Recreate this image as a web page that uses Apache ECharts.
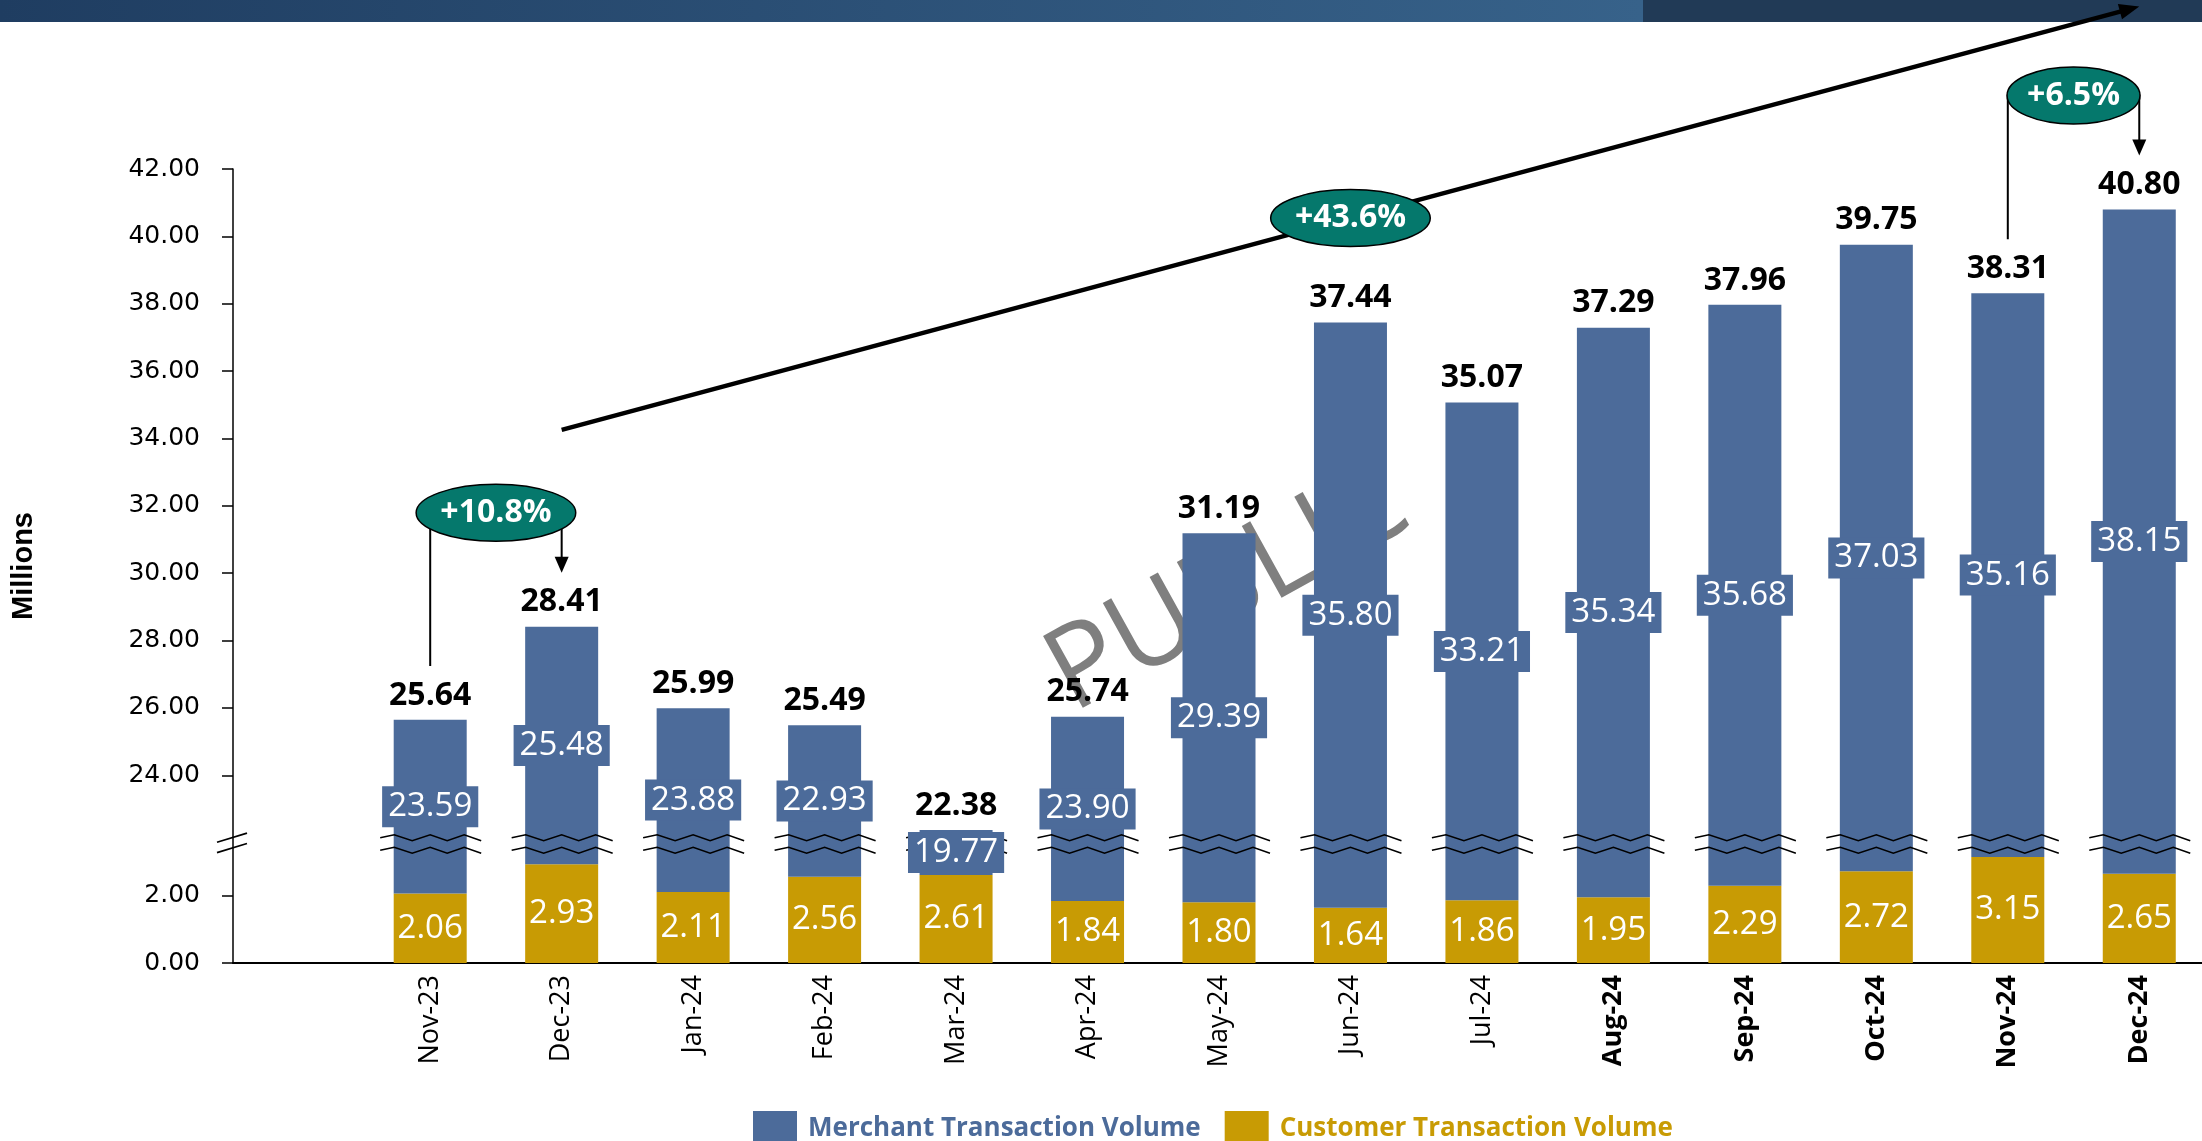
<!DOCTYPE html>
<html>
<head>
<meta charset="utf-8">
<title>Transaction Volume</title>
<script src="https://cdn.jsdelivr.net/npm/echarts@6/dist/echarts.min.js"></script>
<style>
  html, body { margin: 0; padding: 0; background: #fff; }
  #main { width: 2202px; height: 1141px; }
</style>
</head>
<body>
<div id="main"></div>
<script>
// months on the x axis
const months = ['Nov-23', 'Dec-23', 'Jan-24', 'Feb-24', 'Mar-24', 'Apr-24', 'May-24',
  'Jun-24', 'Jul-24', 'Aug-24', 'Sep-24', 'Oct-24', 'Nov-24', 'Dec-24']
// values in millions
const merchantVolume = [23.59, 25.48, 23.88, 22.93, 19.77, 23.90, 29.39, 35.80, 33.21, 35.34, 35.68, 37.03, 35.16, 38.15]
const customerVolume = [2.06, 2.93, 2.11, 2.56, 2.61, 1.84, 1.80, 1.64, 1.86, 1.95, 2.29, 2.72, 3.15, 2.65]
const totalVolume = [25.64, 28.41, 25.99, 25.49, 22.38, 25.74, 31.19, 37.44, 35.07, 37.29, 37.96, 39.75, 38.31, 40.80]
// tick labels below and above the axis break
const lowerTicks = [0, 2]
const upperTicks = [24, 26, 28, 30, 32, 34, 36, 38, 40, 42]
// growth callouts: from, to, text
const growthNotes = [
  ['Nov-23', 'Dec-23', '+10.8%'],
  ['Nov-24', 'Dec-24', '+6.5%']
]
const trendNote = ['Dec-23', 'Dec-24', '+43.6%']

// axis break: values between BREAK_LO and BREAK_HI are cut out
const BREAK_LO = 3.57
const BREAK_HI = 22
const GAP = BREAK_HI - BREAK_LO
const toDisplay = v => (v <= BREAK_LO ? v : v - GAP)

const BLUE = '#4C6B9A'
const GOLD = '#C89B04'
const TEAL = '#05786C'
const FONT = '"Open Sans", "Noto Sans", sans-serif'

// plot box (pixels)
const PLOT_LEFT = 233
const PLOT_TOP = 169
const PLOT_BOTTOM = 963
const PLOT_WIDTH = 1972
const yMaxDisp = toDisplay(upperTicks[upperTicks.length - 1])
const ppu = (PLOT_BOTTOM - PLOT_TOP) / yMaxDisp
const upperHeight = (upperTicks[upperTicks.length - 1] - upperTicks[0]) * ppu
const lowerHeight = (lowerTicks[lowerTicks.length - 1] - lowerTicks[0]) * ppu

// one empty slot before the first month, as in the original
const axisMonths = [''].concat(months)
const boldFrom = axisMonths.indexOf('Aug-24')

const tickAxis = (ticks, gridIndex) => ({
  type: 'value',
  gridIndex: gridIndex,
  min: ticks[0],
  max: ticks[ticks.length - 1],
  interval: 2,
  axisLine: { show: false },
  axisTick: { show: true, length: 11, lineStyle: { color: '#000', width: 1.5 } },
  axisLabel: {
    margin: 33,
    color: '#000',
    fontFamily: '"DejaVu Sans", Verdana, sans-serif',
    fontSize: 25,
    formatter: v => v.toFixed(2)
  },
  splitLine: { show: false }
})

const hiddenX = gridIndex => ({ type: 'category', gridIndex: gridIndex, data: axisMonths, show: false })

const ZIG = [[-50, 0], [-36, -3], [-18, 3], [0, -3], [17, 3], [34, -3], [51, 3]]

// invisible anchor points used only to carry labels
const labelCarrier = {
  type: 'scatter',
  z: 4,
  symbolSize: 1,
  itemStyle: { color: 'rgba(0,0,0,0)', opacity: 1 },
  emphasis: { disabled: true }
}

const option = {
  animation: false,
  backgroundColor: '#fff',
  grid: [
    { left: PLOT_LEFT, top: PLOT_TOP, width: PLOT_WIDTH, height: PLOT_BOTTOM - PLOT_TOP, outerBoundsMode: 'none' },
    { left: PLOT_LEFT, top: PLOT_TOP, width: PLOT_WIDTH, height: upperHeight, outerBoundsMode: 'none' },
    { left: PLOT_LEFT, top: PLOT_BOTTOM - lowerHeight, width: PLOT_WIDTH, height: lowerHeight, outerBoundsMode: 'none' }
  ],
  legend: {
    left: 748,
    top: 1106,
    icon: 'rect',
    itemWidth: 44,
    itemHeight: 36,
    itemGap: 24,
    textStyle: { fontFamily: FONT, fontWeight: 'bold', fontSize: 26, padding: [0, 0, 0, 6] },
    data: [
      { name: 'Merchant Transaction Volume', textStyle: { color: BLUE } },
      { name: 'Customer Transaction Volume', textStyle: { color: GOLD } }
    ]
  },
  xAxis: [
    {
      type: 'category',
      gridIndex: 0,
      data: axisMonths,
      axisLine: { lineStyle: { color: '#000', width: 2 } },
      axisTick: { show: false },
      axisLabel: {
        interval: 0,
        rotate: 90,
        margin: 12,
        formatter: (value, index) => (index >= boldFrom ? '{b|' + value + '}' : '{n|' + value + '}'),
        rich: {
          n: { fontFamily: FONT, fontSize: 27, color: '#000' },
          b: { fontFamily: FONT, fontSize: 27, fontWeight: 'bold', color: '#000' }
        }
      }
    },
    hiddenX(1),
    hiddenX(2)
  ],
  yAxis: [
    {
      type: 'value',
      gridIndex: 0,
      min: 0,
      max: yMaxDisp,
      axisLine: { show: true, lineStyle: { color: '#000', width: 1.5 } },
      axisTick: { show: false },
      axisLabel: { show: false },
      splitLine: { show: false },
      name: 'Millions',
      nameLocation: 'middle',
      nameGap: 195,
      nameTextStyle: { fontFamily: '"Liberation Sans", Arial, sans-serif', fontWeight: 'bold', fontSize: 29, color: '#000' }
    },
    tickAxis(upperTicks, 1),
    tickAxis(lowerTicks, 2)
  ],
  series: [
    {
      name: 'Customer Transaction Volume',
      type: 'bar',
      stack: 'vol',
      barWidth: 73,
      itemStyle: { color: GOLD },
      label: {
        show: true,
        position: 'inside',
        color: '#fff',
        fontFamily: FONT,
        fontSize: 33,
        formatter: p => p.value.toFixed(2)
      },
      data: [null].concat(customerVolume)
    },
    {
      name: 'Merchant Transaction Volume',
      type: 'bar',
      stack: 'vol',
      barWidth: 73,
      itemStyle: { color: BLUE },
      data: [null].concat(merchantVolume.map(m => m - GAP))
    },
    {
      // break marks across each bar
      type: 'custom',
      z: 3,
      silent: true,
      encode: { x: 0, y: 1 },
      renderItem: (params, api) => {
        const c = api.coord([api.value(0), api.value(1)])
        const zig = dy => ({
          type: 'polyline',
          shape: { points: ZIG.map(p => [c[0] + p[0], c[1] + dy + p[1]]) },
          style: { stroke: '#000', lineWidth: 1.6, fill: null }
        })
        return { type: 'group', children: [zig(-5), zig(7.5)] }
      },
      data: months.map(m => [m, BREAK_LO])
    },
    Object.assign({}, labelCarrier, {
      // merchant value labels, centred on the merchant bar
      label: {
        show: true,
        position: 'inside',
        opacity: 1,
        color: '#fff',
        fontFamily: FONT,
        fontSize: 33,
        lineHeight: 33,
        backgroundColor: BLUE,
        padding: [4, 6],
        formatter: p => merchantVolume[p.dataIndex].toFixed(2)
      },
      data: months.map((m, i) => [m, customerVolume[i] + (merchantVolume[i] - GAP) / 2])
    }),
    Object.assign({}, labelCarrier, {
      // totals above the bars
      label: {
        show: true,
        position: 'top',
        distance: 8,
        opacity: 1,
        color: '#000',
        fontFamily: FONT,
        fontWeight: 'bold',
        fontSize: 32,
        formatter: p => totalVolume[p.dataIndex].toFixed(2)
      },
      data: months.map((m, i) => [m, toDisplay(totalVolume[i])])
    })
  ]
}

const chart = echarts.init(document.getElementById('main'))
chart.setOption(option)

function topOf (month) {
  const i = months.indexOf(month)
  return chart.convertToPixel({ gridIndex: 0 }, [month, toDisplay(totalVolume[i])])
}

function arrowHead (tip, dir, len, half) {
  const bx = tip[0] - dir[0] * len
  const by = tip[1] - dir[1] * len
  return {
    type: 'polygon',
    z: 20,
    shape: { points: [tip, [bx - dir[1] * half, by + dir[0] * half], [bx + dir[1] * half, by - dir[0] * half]] },
    style: { fill: '#000' }
  }
}

function bubble (cx, cy, text) {
  const rx = 13.3 * text.length
  return [
    { type: 'ellipse', z: 21, shape: { cx: cx, cy: cy, rx: rx, ry: 28.5 }, style: { fill: TEAL, stroke: '#000', lineWidth: 1.5 } },
    {
      type: 'text', z: 22, x: cx, y: cy,
      style: { text: text, fill: '#fff', font: 'bold 32px ' + FONT, align: 'center', verticalAlign: 'middle', textAlign: 'center', textVerticalAlign: 'middle' }
    }
  ]
}

function buildGraphics () {
  const els = []
  // header band
  els.push({
    type: 'rect', z: 1, shape: { x: 0, y: 0, width: 1643, height: 22 },
    style: { fill: { type: 'linear', x: 0, y: 0, x2: 1, y2: 0, colorStops: [{ offset: 0, color: '#1F3D61' }, { offset: 1, color: '#37628A' }] } }
  })
  els.push({ type: 'rect', z: 1, shape: { x: 1643, y: 0, width: 559, height: 22 }, style: { fill: '#213A56' } })
  // watermark
  els.push({
    type: 'text', z: 1, x: 1085, y: 735, rotation: 29 * Math.PI / 180,
    style: { text: 'PUBLIC', fill: '#7F7F7F', font: '115px ' + FONT, align: 'left', verticalAlign: 'bottom', textAlign: 'left', textVerticalAlign: 'bottom' }
  })
  // break mark on the y axis
  const by = chart.convertToPixel({ yAxisIndex: 0 }, BREAK_LO)
  ;[-5, 5.3].forEach(dy => {
    els.push({
      type: 'line', z: 20,
      shape: { x1: PLOT_LEFT - 16, y1: by + dy + 4.6, x2: PLOT_LEFT + 14, y2: by + dy - 4.6 },
      style: { stroke: '#000', lineWidth: 1.6 }
    })
  })
  // month-on-month callouts
  growthNotes.forEach(note => {
    const a = topOf(note[0])
    const b = topOf(note[1])
    const startY = a[1] - 54
    const tipY = b[1] - 54
    const cy = b[1] - 114
    els.push({
      type: 'polyline', z: 20,
      shape: { points: [[a[0], startY], [a[0], cy], [b[0], cy], [b[0], tipY - 14]] },
      style: { stroke: '#000', lineWidth: 2, fill: null }
    })
    els.push(arrowHead([b[0], tipY], [0, 1], 16, 7))
    bubble((a[0] + b[0]) / 2, cy, note[2]).forEach(e => els.push(e))
  })
  // year-on-year trend arrow
  const s0 = topOf(trendNote[0])
  const e0 = topOf(trendNote[1])
  const s = [s0[0], s0[1] - 197]
  const e = [e0[0], e0[1] - 203]
  const len = Math.hypot(e[0] - s[0], e[1] - s[1])
  const dir = [(e[0] - s[0]) / len, (e[1] - s[1]) / len]
  els.push({
    type: 'line', z: 20,
    shape: { x1: s[0], y1: s[1], x2: e[0] - dir[0] * 14, y2: e[1] - dir[1] * 14 },
    style: { stroke: '#000', lineWidth: 4.5 }
  })
  els.push(arrowHead(e, dir, 20, 8))
  bubble((s[0] + e[0]) / 2, (s[1] + e[1]) / 2, trendNote[2]).forEach(el => els.push(el))
  return els
}

chart.setOption({ graphic: buildGraphics() })
</script>
</body>
</html>
